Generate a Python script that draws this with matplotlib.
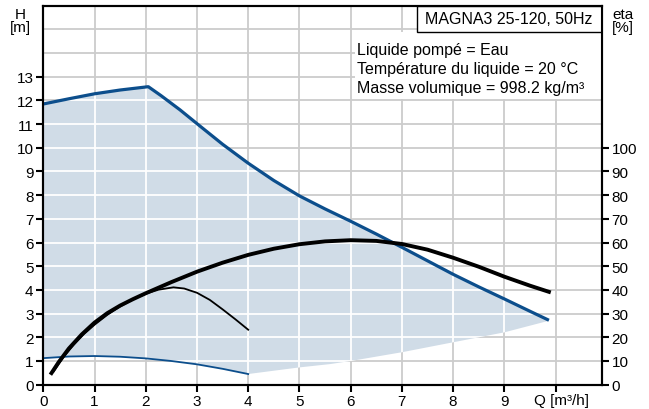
import matplotlib
matplotlib.use("Agg")
import matplotlib.pyplot as plt
from matplotlib.patches import Rectangle

plt.rcParams["font.family"] = ["Liberation Sans", "DejaVu Sans"]
plt.rcParams["font.size"] = 11

# max speed curve H [m]
q_max = [0, 0.5, 1.0, 1.5, 2.05, 2.3, 2.67, 3.0, 3.5, 4.0, 4.5, 5.0, 5.5, 6.0,
         6.5, 7.0, 7.5, 8.0, 8.5, 9.0, 9.5, 9.87]
h_max = [11.85, 12.07, 12.28, 12.44, 12.58, 12.2, 11.6, 11.02, 10.15, 9.35,
         8.62, 7.97, 7.42, 6.9, 6.36, 5.8, 5.23, 4.66, 4.13, 3.62, 3.1, 2.72]

# min speed curve H [m]
q_min = [0, 0.5, 1.0, 1.5, 2.0, 2.5, 3.0, 3.5, 4.0]
h_min = [1.12, 1.19, 1.21, 1.18, 1.11, 1.0, 0.86, 0.67, 0.45]

# lower edge of the operating range
q_low = [4.0, 5.0, 5.6, 6.0, 7.0, 8.0, 9.0, 9.87]
h_low = [0.45, 0.73, 0.87, 1.0, 1.37, 1.79, 2.21, 2.7]

# efficiency curves eta [%]
q_eta_max = [0.16, 0.3, 0.5, 0.75, 1.0, 1.25, 1.5, 1.75, 2.0, 2.5, 3.0, 3.5,
             4.0, 4.5, 5.0, 5.5, 6.0, 6.5, 7.0, 7.5, 8.0, 8.5, 9.0, 9.5, 9.87]
eta_max = [4.9, 9.5, 15.3, 21.2, 26.2, 30.2, 33.4, 36.1, 38.6, 43.3, 47.7,
           51.5, 54.8, 57.4, 59.3, 60.5, 61.0, 60.7, 59.4, 57.0, 53.6, 49.8,
           45.6, 41.8, 39.2]

q_eta_min = [0.2, 0.4, 0.6, 0.8, 1.0, 1.25, 1.5, 1.75, 2.0, 2.25, 2.54, 2.75,
             3.0, 3.25, 3.5, 3.75, 4.0]
eta_min = [5.5, 11.8, 17.0, 21.5, 25.3, 29.5, 33.0, 36.0, 38.4, 40.1, 41.1,
           40.6, 38.8, 35.8, 31.8, 27.6, 23.2]

info_lines = ["Liquide pompé = Eau",
              "Température du liquide = 20 °C",
              "Masse volumique = 998.2 kg/m³"]

blue = "#0c4e8c"
fill_col = "#d0dce7"
grid_col = "#cccccc"

fig = plt.figure(figsize=(6.49, 4.10), dpi=100)
ax = fig.add_axes([0.0667, 0.0593, 0.8604, 0.9244])
ax.set_xlim(0, 10.9)
ax.set_ylim(0, 16)

# grey grid
ax.vlines(range(1, 11), 0, 16, colors=grid_col, lw=1.3, zorder=0.5)
ax.hlines(range(1, 16), 0, 10.9, colors=grid_col, lw=1.3, zorder=0.5)

# operating range
poly_x = q_max + q_low[::-1] + q_min[::-1]
poly_y = h_max + h_low[::-1] + h_min[::-1]
poly = ax.fill(poly_x, poly_y, color=fill_col, lw=0, zorder=1)[0]

# white grid inside the range
vl = ax.vlines(range(1, 11), 0, 16, colors="white", lw=1.3, zorder=1.5)
hl = ax.hlines(range(1, 16), 0, 10.9, colors="white", lw=1.3, zorder=1.5)
vl.set_clip_path(poly)
hl.set_clip_path(poly)

ax.plot(q_max, h_max, color=blue, lw=2.3, zorder=4, solid_capstyle="butt")
ax.plot(q_min, h_min, color=blue, lw=1.3, zorder=4)

ax2 = ax.twinx()
ax2.set_ylim(0, 160)
ax2.plot(q_eta_max, eta_max, color="black", lw=2.8, zorder=5)
ax2.plot(q_eta_min, eta_min, color="black", lw=1.3, zorder=5)

ax.set_xticks(range(0, 11))
ax.set_xticklabels([str(i) for i in range(10)] + [""])
ax.set_yticks(range(0, 14))
ax2.set_yticks(range(0, 101, 10))

for a in (ax, ax2):
    a.tick_params(direction="out", length=5, width=1.5, pad=2, labelsize=11)
    for s in a.spines.values():
        s.set_linewidth(1.5)

# boxes with text
ax.add_patch(Rectangle((0.5582, 0.7538), 0.4418, 0.176, transform=ax.transAxes,
                       facecolor="white", edgecolor="none", zorder=3))
ax.add_patch(Rectangle((0.6687, 0.9298), 0.3313, 0.0702, transform=ax.transAxes,
                       facecolor="white", edgecolor="black", lw=1.0, zorder=6))
ax.text(0.8343, 0.965, "MAGNA3 25-120, 50Hz", transform=ax.transAxes,
        ha="center", va="center", zorder=7, fontsize=11.5)
for txt, yy in zip(info_lines, [0.8726, 0.8224, 0.7731]):
    ax.text(0.562, yy, txt, transform=ax.transAxes, ha="left", va="baseline",
            zorder=7, fontsize=11.5)

fig.text(20 / 649, 1 - 8 / 410, "H\n[m]", ha="center", va="top", linespacing=0.95)
fig.text(623 / 649, 1 - 8 / 410, "eta\n[%]", ha="center", va="top", linespacing=0.95)
fig.text(534 / 649, 1 - 394 / 410, "Q [m³/h]", ha="left", va="top")

fig.savefig("out.png", dpi=100)
